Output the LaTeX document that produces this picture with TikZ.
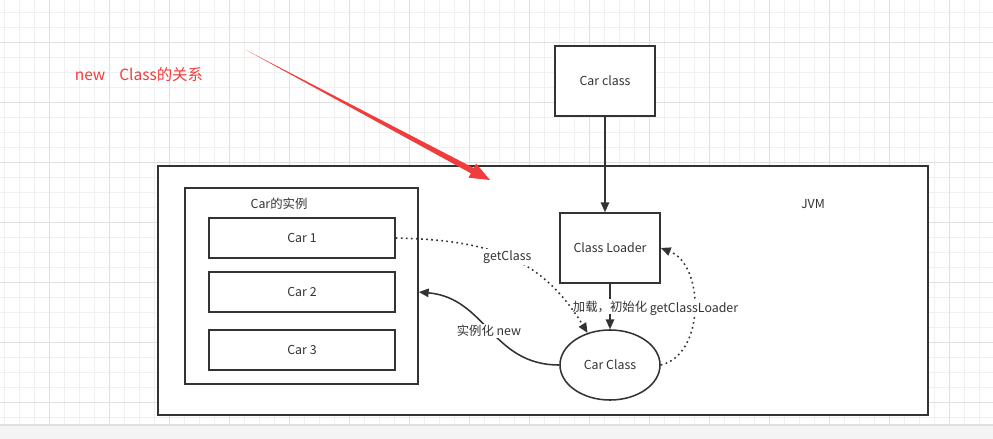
\documentclass[tikz,border=0pt]{standalone}
\usepackage{fontspec}
\newfontfamily\cjk{Noto Sans CJK SC}
\usetikzlibrary{arrows.meta,shapes.geometric}
\definecolor{linegray}{RGB}{51,51,51}
\definecolor{gridminor}{RGB}{240,240,240}
\definecolor{gridmajor}{RGB}{224,224,224}
\definecolor{notered}{RGB}{240,60,60}
\definecolor{barfill}{RGB}{244,244,244}

\begin{document}
\begin{tikzpicture}[x=0.025cm, y=-0.025cm,
    every node/.style={font=\cjk\fontsize{8.8}{10}\selectfont, text=linegray},
    box/.style={draw=linegray, line width=1.1pt, fill=white, minimum width=2.5cm, minimum height=1.75cm},
    carbox/.style={draw=linegray, line width=1.1pt, fill=white, minimum width=4.65cm, minimum height=1cm},
    frame/.style={draw=linegray, line width=1.1pt, fill=white},
    link/.style={draw=linegray, line width=1.1pt, -{Triangle[length=7pt,width=6pt]}},
    dotlink/.style={link, dash pattern=on 1.2pt off 2.4pt},
    lbl/.style={fill=white, inner sep=1pt}]
  \useasboundingbox (0,0) rectangle (993,439);
  % background grid
  \foreach \gx in {4,19,...,993} \draw[gridminor, line width=0.6pt] (\gx,0) -- (\gx,425);
  \foreach \gy in {12,27,...,425} \draw[gridminor, line width=0.6pt] (0,\gy) -- (993,\gy);
  \foreach \gx in {49,109,...,993} \draw[gridmajor, line width=0.6pt] (\gx,0) -- (\gx,425);
  \foreach \gy in {42,102,...,425} \draw[gridmajor, line width=0.6pt] (0,\gy) -- (993,\gy);
  \fill[barfill] (0,425) rectangle (993,439);
  \draw[gridmajor, line width=0.8pt] (0,425) -- (993,425);

  % containers
  \node[frame, minimum width=19.25cm, minimum height=6.225cm] (jvm) at (543,290.5) {};
  \node at (813,204) (jvmlabel) {JVM};
  \node[frame, minimum width=5.825cm, minimum height=4.9cm] (inst) at (301.5,286) {};
  \node at (279,204) (instlabel) {Car的实例};

  % instances
  \node[carbox] (car1) at (302,238) {Car 1};
  \node[carbox] (car2) at (302,292) {Car 2};
  \node[carbox] (car3) at (302,350) {Car 3};

  % class side
  \node[box] (carfile) at (605,81) {Car class};
  \node[box] (loader) at (610,248) {Class Loader};
  \node[draw=linegray, line width=1.1pt, fill=white, ellipse,
        minimum width=2.5cm, minimum height=1.75cm] (carobj) at (610,365) {Car Class};

  % connectors
  \draw[link] (carfile.south) -- (carfile.south |- loader.north);
  \draw[link] (loader.south) -- node[lbl] {加载，初始化} (loader.south |- carobj.north);
  \draw[dotlink] (car1.east) .. controls (485,240) and (540,255) .. node[lbl, pos=0.5] {getClass} (carobj.125);
  \draw[link] (carobj.west) to[out=180, in=-5, looseness=1.1] node[lbl, pos=0.5] {实例化 new} (inst.east |- car2.center);
  \draw[dotlink] (carobj.east) .. controls (705,355) and (705,265) .. node[lbl, pos=0.5] {getClassLoader} (loader.east);

  % red note
  \node[text=notered, font=\cjk\fontsize{11}{13}\selectfont] (note) at (139,75) {new\hspace{0.35cm}Class的关系};
  \coordinate (redstart) at (246,50);
  \coordinate (redtip) at (490,180);
  \fill[notered] (redstart) -- (473.7,168.0) -- (476.1,163.5) -- (redtip) -- (468.5,177.7) -- (470.9,173.3) -- cycle;
\end{tikzpicture}
\end{document}
